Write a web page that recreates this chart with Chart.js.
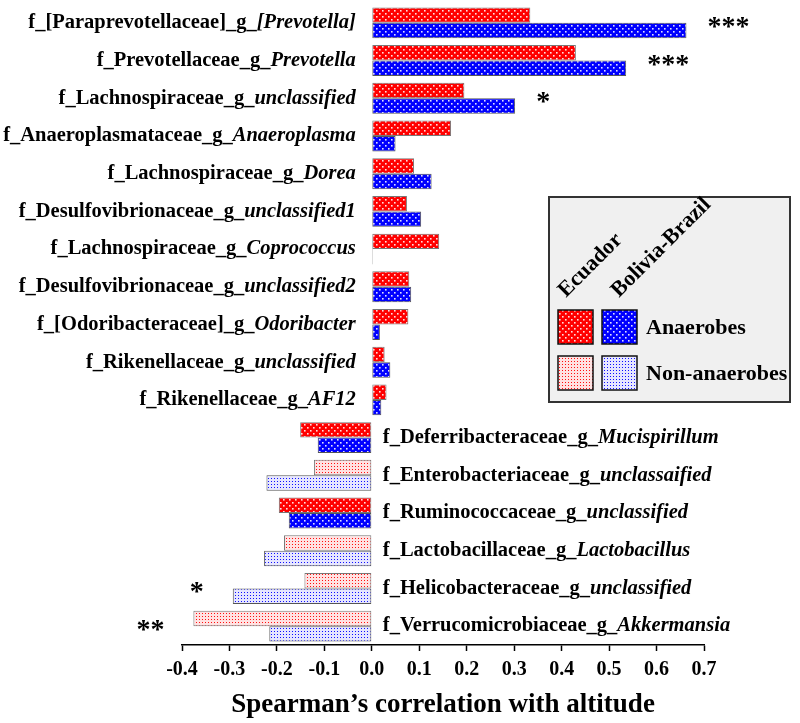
<!DOCTYPE html>
<html>
<head>
<meta charset="utf-8">
<script src="https://cdn.jsdelivr.net/npm/chart.js@4.4.0/dist/chart.umd.min.js"></script>
<style>
  body { margin: 0; background: #fff; }
</style>
</head>
<body>
<canvas id="grafico" width="800" height="723"></canvas>
<script>
// dados
const familias = [
  'f_[Paraprevotellaceae]_g_', 'f_Prevotellaceae_g_', 'f_Lachnospiraceae_g_',
  'f_Anaeroplasmataceae_g_', 'f_Lachnospiraceae_g_', 'f_Desulfovibrionaceae_g_',
  'f_Lachnospiraceae_g_', 'f_Desulfovibrionaceae_g_', 'f_[Odoribacteraceae]_g_',
  'f_Rikenellaceae_g_', 'f_Rikenellaceae_g_', 'f_Deferribacteraceae_g_',
  'f_Enterobacteriaceae_g_', 'f_Ruminococcaceae_g_', 'f_Lactobacillaceae_g_',
  'f_Helicobacteraceae_g_', 'f_Verrucomicrobiaceae_g_'
];
const generos = [
  '[Prevotella]', 'Prevotella', 'unclassified', 'Anaeroplasma', 'Dorea',
  'unclassified1', 'Coprococcus', 'unclassified2', 'Odoribacter', 'unclassified',
  'AF12', 'Mucispirillum', 'unclassaified', 'unclassified', 'Lactobacillus',
  'unclassified', 'Akkermansia'
];
const equador = [0.334, 0.430, 0.195, 0.167, 0.089, 0.074, 0.142, 0.079, 0.077, 0.027, 0.031,
  -0.151, -0.122, -0.196, -0.185, -0.142, -0.376];
const boliviaBrasil = [0.663, 0.536, 0.302, 0.050, 0.126, 0.104, 0.002, 0.083, 0.017, 0.039, 0.020,
  -0.114, -0.222, -0.175, -0.227, -0.293, -0.216];
const anaerobio = [true, true, true, true, true, true, true, true, true, true, true,
  true, false, true, false, false, false];
const asteriscos = ['***', '***', '*', '', '', '', '', '', '', '', '', '', '', '', '', '*', '**'];
const ticksX = ['-0.4', '-0.3', '-0.2', '-0.1', '0.0', '0.1', '0.2', '0.3', '0.4', '0.5', '0.6', '0.7'];

const canvas = document.getElementById('grafico');
const ctx = canvas.getContext('2d');
const serif = '"Liberation Serif", "Times New Roman", serif';

// padrões pontilhados
function criarPadrao(fundo, ponto, tam, pontoTam, alternado) {
  const t = document.createElement('canvas');
  t.width = tam; t.height = tam;
  const c = t.getContext('2d');
  c.fillStyle = fundo;
  c.fillRect(0, 0, tam, tam);
  c.fillStyle = ponto;
  c.fillRect(1, 1, pontoTam, pontoTam);
  if (alternado) c.fillRect(1 + tam / 2, 1 + tam / 2, pontoTam, pontoTam);
  return ctx.createPattern(t, 'repeat');
}
const vermelhoAna = criarPadrao('#ff0000', '#ffe0e0', 6, 1.6, true);
const azulAna = criarPadrao('#0000ff', '#e0e0ff', 6, 1.6, true);
const vermelhoNao = criarPadrao('#ffe2e2', '#ff1010', 3, 1, false);
const azulNao = criarPadrao('#e6e6ff', '#1010ff', 3, 1, false);

const anotacoes = {
  id: 'anotacoes',
  afterDatasetsDraw(chart) {
    const { ctx, scales: { x, y } } = chart;
    const x0 = x.getPixelForValue(0);
    const fonteN = 'bold 20.5px ' + serif;
    const fonteI = 'italic bold 20.5px ' + serif;
    ctx.save();
    ctx.fillStyle = '#000';
    ctx.textBaseline = 'middle';
    ctx.textAlign = 'left';
    familias.forEach((f, i) => {
      const yy = y.getPixelForValue(i);
      ctx.font = fonteN;
      const w1 = ctx.measureText(f).width;
      ctx.font = fonteI;
      const w2 = ctx.measureText(generos[i]).width;
      const esq = equador[i] > 0 ? x0 - 16 - w1 - w2 : x0 + 11;
      ctx.font = fonteN;
      ctx.fillText(f, esq, yy);
      ctx.font = fonteI;
      ctx.fillText(generos[i], esq + w1, yy);

      if (asteriscos[i]) {
        ctx.font = 'bold 28px ' + serif;
        ctx.textBaseline = 'alphabetic';
        const maior = Math.max(equador[i], boliviaBrasil[i]);
        const menor = Math.min(equador[i], boliviaBrasil[i]);
        if (maior > 0) {
          ctx.textAlign = 'left';
          ctx.fillText(asteriscos[i], x.getPixelForValue(maior) + 21, yy + 12);
        } else {
          ctx.textAlign = 'right';
          ctx.fillText(asteriscos[i], x.getPixelForValue(menor) - 29, yy + 12);
        }
        ctx.textAlign = 'left';
        ctx.textBaseline = 'middle';
      }
    });

    // legenda
    ctx.fillStyle = '#f0f0f0';
    ctx.fillRect(549, 197, 241, 205);
    ctx.strokeStyle = '#333';
    ctx.lineWidth = 2;
    ctx.strokeRect(549, 197, 241, 205);

    const sw = [[vermelhoAna, 558, 310], [azulAna, 602, 310], [vermelhoNao, 558, 356], [azulNao, 602, 356]];
    sw.forEach(([p, sx, sy]) => {
      ctx.fillStyle = p;
      ctx.fillRect(sx, sy, 35, 34);
      ctx.strokeStyle = '#111';
      ctx.lineWidth = 1.5;
      ctx.strokeRect(sx, sy, 35, 34);
    });
    ctx.fillStyle = '#000';
    ctx.font = 'bold 22px ' + serif;
    ctx.fillText('Anaerobes', 646, 328);
    ctx.fillText('Non-anaerobes', 646, 374);

    ctx.font = 'bold 22px ' + serif;
    ctx.textBaseline = 'alphabetic';
    [['Ecuador', 566, 298], ['Bolivia-Brazil', 619, 298]].forEach(([t, tx, ty]) => {
      ctx.save();
      ctx.translate(tx, ty);
      ctx.rotate(-Math.PI / 4);
      ctx.fillText(t, 0, 0);
      ctx.restore();
    });
    ctx.restore();
  }
};

new Chart(ctx, {
  type: 'bar',
  data: {
    labels: familias.map((f, i) => f + generos[i]),
    datasets: [{
      label: 'Ecuador',
      data: equador,
      backgroundColor: anaerobio.map(a => a ? vermelhoAna : vermelhoNao),
      borderColor: '#777',
      borderWidth: 1,
      borderSkipped: false
    }, {
      label: 'Bolivia-Brazil',
      data: boliviaBrasil,
      backgroundColor: anaerobio.map(a => a ? azulAna : azulNao),
      borderColor: '#555',
      borderWidth: 1,
      borderSkipped: false
    }]
  },
  options: {
    indexAxis: 'y',
    responsive: false,
    animation: false,
    events: [],
    layout: { padding: { left: 182, right: 96, top: 4, bottom: 0 } },
    datasets: { bar: { categoryPercentage: 0.82, barPercentage: 1 } },
    plugins: { legend: { display: false }, tooltip: { enabled: false } },
    scales: {
      y: { display: false },
      x: {
        min: -0.4,
        max: 0.7,
        ticks: {
          stepSize: 0.1,
          padding: 7,
          color: '#000',
          font: { family: serif, size: 20, weight: 'bold' },
          callback: (v, i) => ticksX[i]
        },
        grid: { drawOnChartArea: false, drawTicks: true, tickLength: 6, color: '#000', tickWidth: 1.5 },
        border: { display: true, color: '#000', width: 1.5 },
        title: {
          display: true,
          text: 'Spearman’s correlation with altitude',
          color: '#000',
          font: { family: serif, size: 27, weight: 'bold' },
          padding: { top: 0, bottom: 1.6 }
        }
      }
    }
  },
  plugins: [anotacoes]
});
</script>
</body>
</html>
